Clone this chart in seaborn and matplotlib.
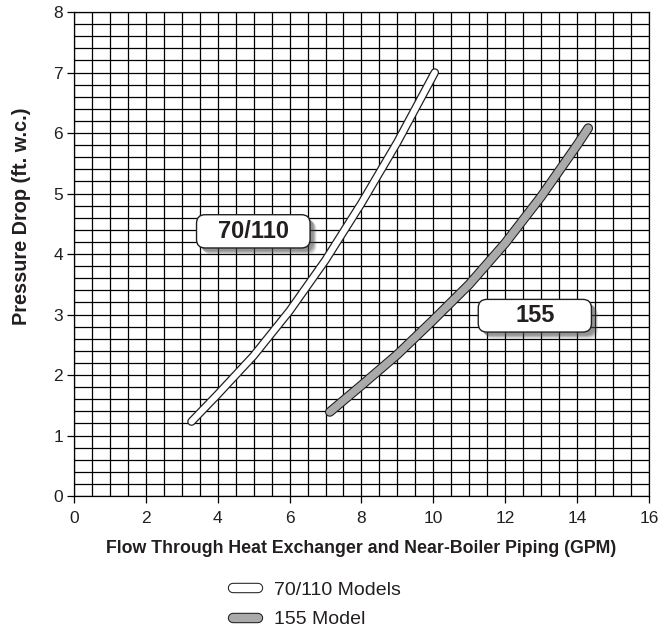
import numpy as np
import pandas as pd
import seaborn as sns
import matplotlib.pyplot as plt
import matplotlib.patheffects as pe
from matplotlib.patches import FancyBboxPatch
from matplotlib.lines import Line2D
import matplotlib.transforms as mtransforms

# values
flow_70 = [3.27, 4.0, 5.0, 6.0, 7.0, 8.0, 9.0, 10.04]
drop_70 = [1.23, 1.68, 2.32, 3.06, 3.90, 4.84, 5.85, 7.00]
flow_155 = [7.12, 8.0, 9.0, 10.0, 11.0, 12.0, 13.0, 14.0, 14.31]
drop_155 = [1.39, 1.83, 2.34, 2.91, 3.50, 4.18, 4.95, 5.80, 6.08]

df70 = pd.DataFrame({'flow': flow_70, 'drop': drop_70})
df155 = pd.DataFrame({'flow': flow_155, 'drop': drop_155})

sns.set_style('white')
plt.rcParams['font.family'] = ['Liberation Sans', 'DejaVu Sans']
ink = '#231f20'
grey = '#a9abab'

fig = plt.figure(figsize=(6.69, 6.28), dpi=100)
ax = fig.add_axes([0.1106, 0.2102, 0.8594, 0.7706])

ax.set_xlim(0, 16)
ax.set_ylim(0, 8)
ax.set_xticks(np.arange(0, 17, 2))
ax.set_yticks(np.arange(0, 9, 1))
ax.set_xticks(np.arange(0, 16.01, 0.5), minor=True)
ax.set_yticks(np.arange(0, 8.01, 0.2), minor=True)
ax.grid(True, which='both', color='black', lw=0.9)
ax.tick_params(which='major', direction='out', length=5, width=0.9, color='black',
               labelsize=12.5, labelcolor=ink, bottom=True, left=True)
ax.tick_params(axis='x', pad=6)
ax.tick_params(axis='y', pad=3)
ax.tick_params(which='minor', length=0)
for s in ax.spines.values():
    s.set_color('black')
    s.set_linewidth(0.9)

sns.lineplot(data=df70, x='flow', y='drop', ax=ax, color='white', lw=4.4,
             solid_capstyle='round',
             path_effects=[pe.Stroke(linewidth=6.2, foreground=ink), pe.Normal()],
             zorder=5)
sns.lineplot(data=df155, x='flow', y='drop', ax=ax, color=grey, lw=5.4,
             solid_capstyle='round',
             path_effects=[pe.Stroke(linewidth=7.0, foreground=ink), pe.Normal()],
             zorder=5)

ax.set_xlabel('Flow Through Heat Exchanger and Near-Boiler Piping (GPM)',
              fontsize=12.8, fontweight='bold', color=ink, labelpad=10)
ax.set_ylabel('Pressure Drop (ft. w.c.)', fontsize=14.3, fontweight='bold', color=ink)
ax.yaxis.set_label_coords(-0.074, 0.578)


def label_box(x0, y0, x1, y1, text):
    # soft shadow, a few stacked layers
    for i, a in enumerate([0.12, 0.14, 0.16, 0.18, 0.2]):
        d = 6.5 - i * 0.8
        off = mtransforms.offset_copy(ax.transData, fig=fig, x=d, y=-d, units='dots')
        sh = FancyBboxPatch((x0, y0), x1 - x0, y1 - y0,
                            boxstyle='round,pad=0,rounding_size=0.24',
                            mutation_aspect=0.6, fc='#4a4a4a', ec='none',
                            alpha=a, transform=off, zorder=6)
        ax.add_patch(sh)
    box = FancyBboxPatch((x0, y0), x1 - x0, y1 - y0,
                         boxstyle='round,pad=0,rounding_size=0.24',
                         mutation_aspect=0.6, fc='white', ec=ink, lw=1.0, zorder=7)
    ax.add_patch(box)
    ax.text((x0 + x1) / 2, (y0 + y1) / 2, text, ha='center', va='center',
            fontsize=17, fontweight='bold', color=ink, zorder=8)


label_box(3.41, 4.10, 6.57, 4.65, '70/110')
label_box(11.25, 2.71, 14.40, 3.25, '155')

handles = [
    Line2D([], [], color='white', lw=6.0, solid_capstyle='round',
           path_effects=[pe.Stroke(linewidth=7.5, foreground=ink), pe.Normal()]),
    Line2D([], [], color=grey, lw=6.0, solid_capstyle='round',
           path_effects=[pe.Stroke(linewidth=7.5, foreground=ink), pe.Normal()]),
]
fig.legend(handles, ['70/110 Models', '155 Model'], loc='upper left',
           bbox_to_anchor=(0.322, 0.102), frameon=False, fontsize=14,
           handlelength=1.27, handletextpad=0.82, labelspacing=0.6,
           labelcolor=ink)

fig.savefig('out.png', dpi=100)
